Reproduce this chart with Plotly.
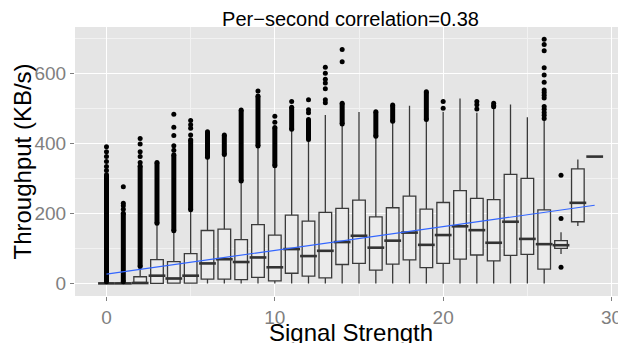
import plotly.graph_objects as go

# ---- data ----
signal = list(range(30))
q1 =     [0, 0, 0, 0, 1, 1, 12, 12, 11, 17, 7, 29, 21, 16, 54, 57, 38, 55, 67, 45, 57, 69, 81, 64, 80, 83, 41, 100, 176, 362]
median = [0, 0, 1, 22, 14, 22, 57, 69, 61, 74, 46, 98, 78, 93, 118, 136, 102, 122, 145, 110, 138, 163, 152, 116, 176, 127, 112, 109, 230, 362]
q3 =     [1, 1, 19, 68, 62, 85, 151, 155, 125, 168, 138, 195, 178, 203, 214, 238, 190, 216, 249, 212, 231, 265, 243, 239, 311, 300, 210, 122, 327, 362]
lower =  [0, 0, 0, 0, 0, 0, 0, 0, 0, 0, 0, 0, 0, 0, 0, 0, 0, 0, 0, 0, 0, 0, 0, 0, 0, 0, 0, 84, 164, 362]
upper =  [4, 4, 47, 171, 147, 207, 357, 367, 290, 390, 333, 438, 409, 481, 452, 489, 419, 462, 507, 467, 490, 528, 487, 503, 511, 474, 467, 146, 354, 362]

# dense runs of outliers (drawn as solid columns of dots): (signal, from, to)
dense_x =  [0, 1, 2, 3, 4, 5, 6, 7, 8, 9, 10, 11, 12, 14, 16, 17, 19]
dense_lo = [5, 5, 48, 172, 150, 210, 360, 368, 292, 392, 336, 440, 411, 455, 420, 463, 468]
dense_hi = [310, 200, 335, 345, 367, 410, 433, 424, 495, 535, 445, 503, 468, 514, 490, 509, 547]

# sparse outliers
outliers = {
    0: [390, 376, 362, 348, 334, 322],
    1: [276, 229, 222, 212],
    2: [414, 398, 376, 362, 345],
    4: [483, 446, 422, 393, 380],
    5: [465, 453, 443, 424],
    9: [549],
    10: [477, 460],
    11: [519],
    12: [524, 496, 487],
    13: [617, 600, 583, 572, 556, 524, 516],
    14: [668, 633],
    20: [519, 500],
    22: [519, 510, 498],
    23: [514, 508, 504],
    26: [697, 682, 664, 616, 595, 574, 552, 545, 537, 529, 505, 497, 488, 480, 471],
    27: [309, 185, 46],
}

# linear fit end points
fit_x = [0, 29]
fit_y = [26.6, 223]

title_text = "Per\u2212second correlation=0.38"
x_label = "Signal Strength"
y_label = "Throughput (KB/s)"
x_ticks = [0, 10, 20, 30]
y_ticks = [0, 200, 400, 600]

FONT = "Liberation Sans, Arial, Helvetica, sans-serif"

# the page body has an 8px default margin; size the figure so it fills the 626x343 window
W, H = 618, 335

fig = go.Figure()

fig.add_trace(go.Box(
    x=signal, q1=q1, median=median, q3=q3,
    lowerfence=lower, upperfence=upper,
    width=0.75, whiskerwidth=0,
    fillcolor="#EBEBEB",
    line=dict(color="#3a3a3a", width=1.3),
    boxpoints=False, showlegend=False, hoverinfo="skip",
))

# thicker median bars
fig.add_trace(go.Scatter(
    x=signal, y=median, mode="markers",
    marker=dict(symbol="line-ew", size=12, line=dict(color="#333333", width=2.6)),
    showlegend=False, hoverinfo="skip",
))

# dense outlier columns
dxs, dys = [], []
for x, lo, hi in zip(dense_x, dense_lo, dense_hi):
    dxs += [x, x, None]
    dys += [lo, hi, None]
fig.add_trace(go.Scatter(
    x=dxs, y=dys, mode="lines+markers",
    line=dict(color="black", width=5),
    marker=dict(color="black", size=5),
    showlegend=False, hoverinfo="skip",
))

# sparse outliers
ox, oy = [], []
for k, vals in outliers.items():
    ox += [k] * len(vals)
    oy += vals
fig.add_trace(go.Scatter(
    x=ox, y=oy, mode="markers",
    marker=dict(color="black", size=5),
    showlegend=False, hoverinfo="skip",
))

# fitted line
fig.add_trace(go.Scatter(
    x=fit_x, y=fit_y, mode="lines",
    line=dict(color="#3366FF", width=1.2),
    showlegend=False, hoverinfo="skip",
))

axis_common = dict(
    showline=False, zeroline=False,
    ticks="outside", ticklen=4, tickwidth=1, tickcolor="#7F7F7F",
    tickfont=dict(family=FONT, size=19, color="#7F7F7F"),
    showgrid=True, gridcolor="#FFFFFF", gridwidth=1,
)

fig.update_layout(
    width=W, height=H,
    margin=dict(l=67, r=0, t=19, b=47, autoexpand=False),
    paper_bgcolor="#FFFFFF", plot_bgcolor="#E5E5E5",
    font=dict(family=FONT),
    title=dict(text=title_text, x=0.5, xref="paper", xanchor="center",
               y=1 - 10.5 / H, yref="container", yanchor="middle",
               font=dict(family=FONT, size=20, color="black")),
    xaxis=dict(range=[-1.87, 30.86], tickvals=x_ticks,
               minor=dict(dtick=5, tick0=0, showgrid=True, gridcolor="#F2F2F2", gridwidth=0.6, ticks=""),
               **axis_common),
    yaxis=dict(range=[-36, 732], tickvals=y_ticks,
               minor=dict(dtick=100, tick0=0, showgrid=True, gridcolor="#F2F2F2", gridwidth=0.6, ticks=""),
               **axis_common),
    annotations=[
        dict(text=x_label, xref="paper", yref="paper", x=0.5, y=0,
             xanchor="center", yanchor="top", yshift=-21, showarrow=False,
             font=dict(family=FONT, size=24, color="black")),
        dict(text=y_label, xref="paper", yref="paper", x=0, y=0.5,
             xanchor="center", yanchor="middle", xshift=-53, textangle=-90, showarrow=False,
             font=dict(family=FONT, size=24, color="black")),
    ],
)

fig.write_html("out.html")
